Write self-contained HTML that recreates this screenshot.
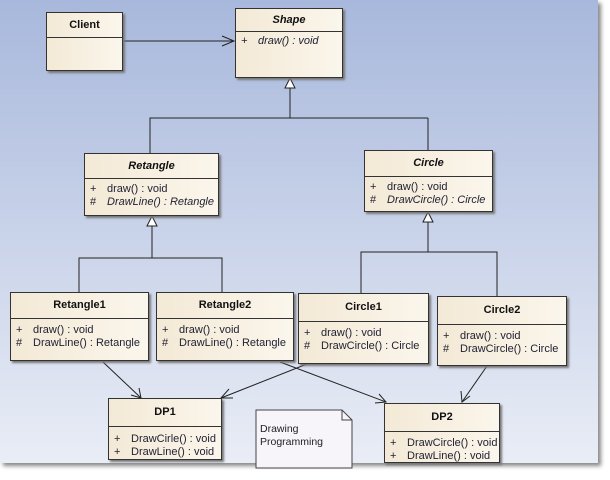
<!DOCTYPE html>
<html><head><style>
body{margin:0;width:610px;height:480px;background:#fff;position:relative;overflow:hidden;font-family:"Liberation Sans",sans-serif;}
.bg{position:absolute;left:0;top:0;width:598px;height:463px;background:linear-gradient(#a8b8dc,#e9edf6);box-shadow:3px 3px 4px #888;}
.c{position:absolute;border:1px solid #333;background:linear-gradient(90deg,#f3e9d6,#fbf6ec);box-shadow:2px 2px 2px #777;font-size:11px;color:#223;}
.h{border-bottom:1px solid #333;text-align:center;font-weight:bold;font-size:11px;color:#111;}
.r{padding-left:5px;white-space:nowrap;line-height:13px}
.r b{font-weight:normal;display:inline-block;width:17px}
.i{font-style:italic}
svg{position:absolute;left:0;top:0}
</style></head><body>
<div class="bg"></div>
<svg width="610" height="480">
<g stroke="#222" fill="none" stroke-width="1">
<line x1="122" y1="41" x2="234" y2="41"/><polyline points="222,36 234,41 222,46"/>
<polyline points="290,88 290,118 150,118 150,153"/><line x1="290" y1="118" x2="428" y2="118"/><line x1="428" y1="118" x2="428" y2="150"/>
<polyline points="152,226 152,258 79,258 79,292"/><polyline points="152,258 222,258 222,292"/>
<polyline points="428,222 428,252 361,252 361,293"/><polyline points="428,252 497,252 497,296"/>
<line x1="103" y1="362" x2="141" y2="398"/><polyline points="131,395 141,398 139,388"/>
<line x1="280" y1="362" x2="386" y2="402"/><polyline points="375,403 386,402 379,394"/>
<line x1="307" y1="364" x2="221" y2="398"/><polyline points="229,389 221,398 233,398"/>
<line x1="487" y1="366" x2="462" y2="402"/><polyline points="461,391 462,402 470,396"/>
</g>
<polygon points="290,78 285,88 295,88" fill="#fff" stroke="#222"/>
<polygon points="152,216 147,226 157,226" fill="#fff" stroke="#222"/>
<polygon points="428,212 423,222 433,222" fill="#fff" stroke="#222"/>
<polygon points="256,410 342,410 352,420 352,468 256,468" fill="#f7f4fa" stroke="#444"/>
<polyline points="342,410 342,420 352,420" fill="none" stroke="#444"/>
<text x="260" y="432" font-size="10.5" fill="#222" font-family="Liberation Sans">Drawing</text>
<text x="260" y="445" font-size="10.5" fill="#222" font-family="Liberation Sans">Programming</text>
</svg>
<div class="c" style="left:46px;top:12px;width:75px;height:57px"><div class="h" style="height:24px;line-height:24px">Client</div></div>
<div class="c" style="left:235px;top:8px;width:106px;height:68px"><div class="h i" style="height:22px;line-height:22px">Shape</div><div class="r i" style="margin-top:3px"><b>+</b>draw() : void</div></div>
<div class="c" style="left:84px;top:153px;width:133px;height:61px"><div class="h i" style="height:24px;line-height:24px">Retangle</div><div class="r" style="margin-top:4px"><b>+</b>draw() : void</div><div class="r"><b>#</b><span class="i">DrawLine() : Retangle</span></div></div>
<div class="c" style="left:364px;top:150px;width:127px;height:60px"><div class="h i" style="height:25px;line-height:25px">Circle</div><div class="r" style="margin-top:4px"><b>+</b>draw() : void</div><div class="r"><b>#</b><span class="i">DrawCircle() : Circle</span></div></div>
<div class="c" style="left:10px;top:292px;width:137px;height:67px"><div class="h" style="height:25px;line-height:25px">Retangle1</div><div class="r" style="margin-top:5px"><b>+</b>draw() : void</div><div class="r"><b>#</b>DrawLine() : Retangle</div></div>
<div class="c" style="left:156px;top:292px;width:136px;height:67px"><div class="h" style="height:25px;line-height:25px">Retangle2</div><div class="r" style="margin-top:5px"><b>+</b>draw() : void</div><div class="r"><b>#</b>DrawLine() : Retangle</div></div>
<div class="c" style="left:298px;top:293px;width:129px;height:69px"><div class="h" style="height:27px;line-height:27px">Circle1</div><div class="r" style="margin-top:5px"><b>+</b>draw() : void</div><div class="r"><b>#</b>DrawCircle() : Circle</div></div>
<div class="c" style="left:437px;top:296px;width:128px;height:68px"><div class="h" style="height:27px;line-height:27px">Circle2</div><div class="r" style="margin-top:5px"><b>+</b>draw() : void</div><div class="r"><b>#</b>DrawCircle() : Circle</div></div>
<div class="c" style="left:108px;top:398px;width:112px;height:60px"><div class="h" style="height:27px;line-height:27px">DP1</div><div class="r" style="margin-top:6px"><b>+</b>DrawCirle() : void</div><div class="r"><b>+</b>DrawLine() : void</div></div>
<div class="c" style="left:384px;top:403px;width:114px;height:58px"><div class="h" style="height:27px;line-height:27px">DP2</div><div class="r" style="margin-top:5px"><b>+</b>DrawCircle() : void</div><div class="r"><b>+</b>DrawLine() : void</div></div>
</body></html>
